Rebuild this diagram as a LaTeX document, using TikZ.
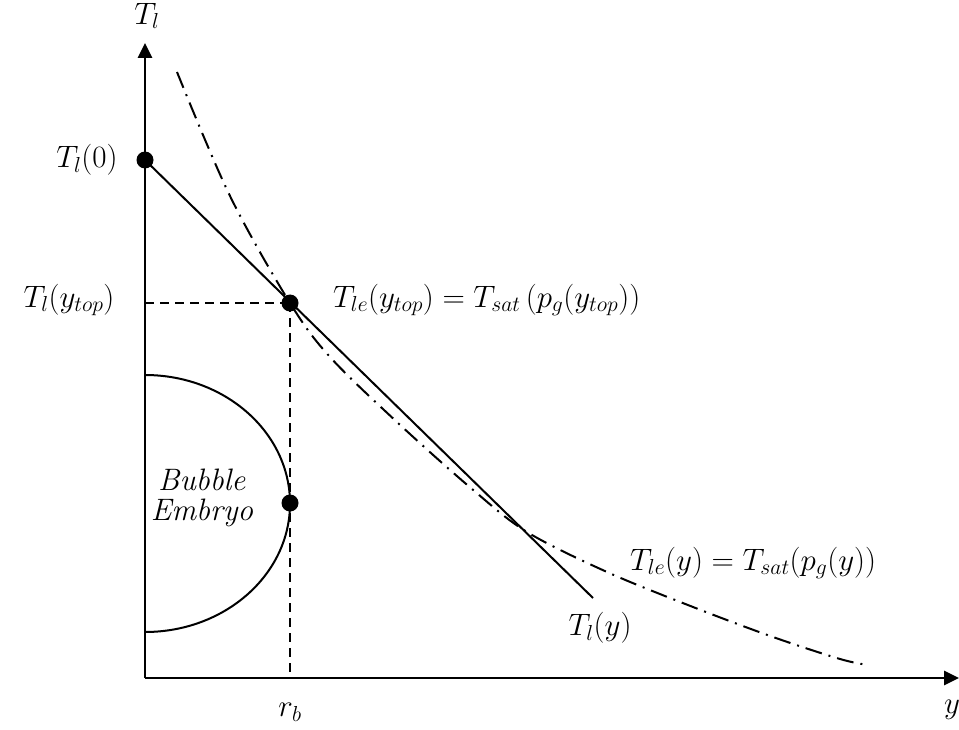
\documentclass[tikz,border=0pt]{standalone}
\usepackage{fix-cm}
\usetikzlibrary{arrows.meta}
\begin{document}
\begin{tikzpicture}[x=1pt,y=-1pt,
  axis/.style={line width=2.6pt,-{Triangle[length=15pt,width=14pt]}},
  solidline/.style={line width=2pt},
  guide/.style={line width=2pt,dash pattern=on 9pt off 6pt},
  dashdot/.style={line width=2pt,dash pattern=on 17pt off 7pt on 2pt off 7pt},
  dot/.style={circle,fill=black,inner sep=0pt,minimum size=17pt},
  lab/.style={font=\fontsize{31}{36}\selectfont,inner sep=0pt}]
\useasboundingbox (0,0) rectangle (959,730);
% axes
\coordinate (O) at (145,678);
\coordinate (ytip) at (145,43);
\coordinate (xtip) at (959,678);
\draw[axis] (O) -- (ytip);
\draw[axis] (O) -- (xtip);
% bubble
\draw[solidline] (145,375) arc[start angle=90,end angle=-90,x radius=145pt,y radius=128.5pt];
% dots
\node[dot] (d0) at (145,160) {};
\node[dot] (dtop) at (290,303) {};
\node[dot] (drb) at (290,503) {};
\coordinate (yaxtop) at (145,303);
\coordinate (xaxrb) at (290,678);
\coordinate (lend) at (593,598);
% liquid temperature line
\draw[solidline] (d0.center) -- (lend);
% guides
\draw[guide] (yaxtop) -- (dtop.center);
\draw[guide] (dtop.center) -- (xaxrb);
% saturation curve
\draw[dashdot] plot[smooth,tension=0.55] coordinates {(177,72) (230,196) (290,303) (330,357) (398,423) (472,489) (527,532) (607,572) (693,607) (773,637) (840,659) (868,665)};
% labels
\node[lab] (lTl) at (147,16) {$T_l$};
\node[lab] (lT0) at (87,160) {$T_l(0)$};
\node[lab] (lTtop) at (69,300) {$T_l(y_{top})$};
\node[lab,anchor=west] (leq1) at (333,300) {$T_{le}\bigl(y_{top}\bigr) = T_{sat}\left(p_g\bigl(y_{top}\bigr)\right)$};
\node[lab,align=center] (lbub) at (203,498) {$\mathit{Bubble}$\\[-6pt]$\mathit{Embryo}$};
\node[lab,anchor=west] (leq2) at (630,563) {$T_{le}(y) = T_{sat}(p_g(y))$};
\node[lab] (lTy) at (600,628) {$T_l(y)$};
\node[lab] (lrb) at (290,712) {$r_b$};
\node[lab,anchor=west] (ly) at (944,710) {$y$};
\end{tikzpicture}
\end{document}
